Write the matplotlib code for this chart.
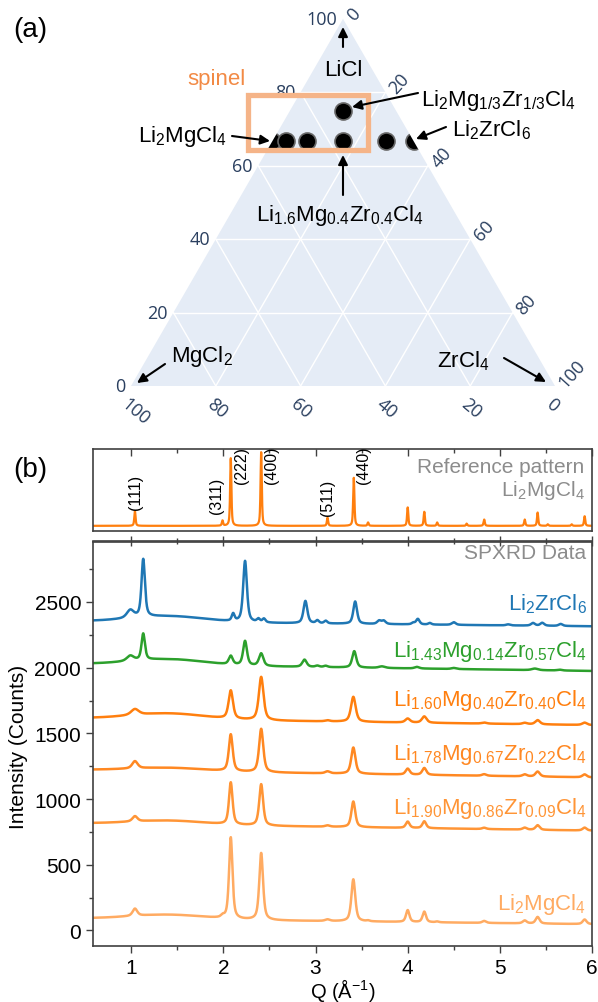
import numpy as np
import matplotlib
matplotlib.use('Agg')
import matplotlib.pyplot as plt
from matplotlib.patches import Polygon, Rectangle
from matplotlib.ticker import MultipleLocator

plt.rcParams['font.family'] = ['Liberation Sans', 'DejaVu Sans']
plt.rcParams['mathtext.default'] = 'regular'

W, H = 598, 1003

# ---- (a) ternary data: moles of LiCl, MgCl2, ZrCl4 per formula ----
comp_licl = [2.0, 1.90, 1.78, 1.60, 1.43, 2.0, 2.0]
comp_mgcl2 = [1.0, 0.86, 0.67, 0.40, 0.14, 0.0, 1 / 3]
comp_zrcl4 = [0.0, 0.09, 0.22, 0.40, 0.57, 1.0, 1 / 3]
tern_ticks = [0, 20, 40, 60, 80, 100]

# ---- (b) reference pattern (Li2MgCl4) ----
ref_pos = [1.04, 1.99, 2.08, 2.41, 3.13, 3.415, 3.57, 4.00, 4.18, 4.32, 4.64, 4.83,
           5.27, 5.41, 5.52, 5.78, 5.92]
ref_amp = [0.20, 0.07, 0.92, 1.00, 0.11, 0.65, 0.045, 0.25, 0.19, 0.045, 0.03, 0.085,
           0.085, 0.18, 0.02, 0.02, 0.13]
ref_hkl = ['(111)', '(311)', '(222)', '(400)', '(511)', '(440)']
ref_hkl_q = [1.05, 1.93, 2.195, 2.52, 3.133, 3.525]
ref_hkl_y = [0.23, 0.17, 0.58, 0.58, 0.14, 0.58]

# ---- (b) SPXRD data: backgrounds (left, right, hump) and peaks ----
names = ['Li$_2$ZrCl$_6$',
         'Li$_{1.43}$Mg$_{0.14}$Zr$_{0.57}$Cl$_4$',
         'Li$_{1.60}$Mg$_{0.40}$Zr$_{0.40}$Cl$_4$',
         'Li$_{1.78}$Mg$_{0.67}$Zr$_{0.22}$Cl$_4$',
         'Li$_{1.90}$Mg$_{0.86}$Zr$_{0.09}$Cl$_4$',
         'Li$_2$MgCl$_4$']
colors = ['#1f77b4', '#2ca02c', '#ff7f0e', '#ff8822', '#ff9536', '#ffab62']
bg_left = [2353, 2028, 1615, 1222, 815, 92]
bg_right = [2315, 1975, 1563, 1165, 760, 48]
bg_hump = [45, 45, 45, 25, 30, 35]
label_y = [2490, 2128, 1759, 1344, 938, 206]

zr_pos = [0.99, 1.13, 2.106, 2.235, 2.38, 2.44, 2.89, 3.02, 3.11, 3.43, 3.69, 3.74,
          4.06, 4.11, 4.24, 4.50, 5.09, 5.36, 5.46, 5.66]
zr_amp = [60, 440, 55, 465, 25, 28, 170, 22, 20, 170, 25, 25, 12, 42, 12, 20, 8, 20, 22, 15]
zr_hw = [0.045, 0.022, 0.018, 0.024, 0.02, 0.02, 0.025, 0.02, 0.02, 0.024, 0.025, 0.025,
         0.02, 0.022, 0.02, 0.025, 0.025, 0.025, 0.025, 0.025]

x143_pos = [0.99, 1.13, 2.08, 2.235, 2.41, 2.88, 3.02, 3.11, 3.42, 3.72, 4.10, 4.50, 5.38, 5.65]
x143_amp = [40, 200, 65, 185, 95, 55, 10, 10, 125, 12, 12, 8, 12, 6]
x143_hw = [0.045, 0.022, 0.025, 0.025, 0.028, 0.028, 0.025, 0.025, 0.026, 0.04, 0.03, 0.03,
           0.04, 0.03]

x160_pos = [1.04, 2.08, 2.41, 3.13, 3.41, 4.00, 4.18, 4.83, 5.27, 5.41, 5.92]
x160_amp = [45, 215, 330, 8, 190, 30, 48, 8, 10, 32, 18]
x160_hw = [0.05, 0.028, 0.03, 0.03, 0.03, 0.03, 0.03, 0.03, 0.03, 0.03, 0.03]

x178_pos = [1.04, 2.08, 2.41, 3.13, 3.41, 4.00, 4.18, 4.83, 5.27, 5.41, 5.92]
x178_amp = [55, 280, 330, 15, 200, 45, 52, 12, 15, 38, 22]
x178_hw = [0.035, 0.025, 0.027, 0.03, 0.027, 0.026, 0.026, 0.028, 0.028, 0.028, 0.028]

x190_pos = [1.04, 2.08, 2.41, 3.13, 3.41, 4.00, 4.18, 4.83, 5.27, 5.41, 5.92]
x190_amp = [40, 320, 315, 10, 195, 48, 52, 10, 15, 35, 22]
x190_hw = [0.032, 0.023, 0.025, 0.03, 0.025, 0.024, 0.024, 0.026, 0.026, 0.026, 0.026]

mg_pos = [1.04, 1.99, 2.08, 2.41, 3.13, 3.41, 3.57, 4.00, 4.18, 4.32, 4.83, 5.27, 5.41, 5.92]
mg_amp = [55, 15, 620, 510, 12, 320, 6, 90, 80, 6, 15, 22, 50, 35]
mg_hw = [0.03, 0.02, 0.022, 0.024, 0.03, 0.025, 0.02, 0.022, 0.022, 0.02, 0.025, 0.025,
         0.025, 0.025]

peak_pos = [zr_pos, x143_pos, x160_pos, x178_pos, x190_pos, mg_pos]
peak_amp = [zr_amp, x143_amp, x160_amp, x178_amp, x190_amp, mg_amp]
peak_hw = [zr_hw, x143_hw, x160_hw, x178_hw, x190_hw, mg_hw]


def pseudo_voigt(q, pos, amp, hw, eta=0.6):
    y = np.zeros_like(q)
    for p, a, w in zip(pos, amp, hw):
        d = (q - p) / w
        y += a * (eta / (1 + d ** 2) + (1 - eta) * np.exp(-np.log(2) * d ** 2))
    return y


fig = plt.figure(figsize=(W / 100, H / 100), dpi=100)
fig.patch.set_facecolor('white')

# ── (a) ternary ─────────────────────────────────────────────────────────────
S = 424.0          # side length in pixels
X0, Y0 = 131, 387  # left vertex in pixels
h = np.sqrt(3) / 2

axt = fig.add_axes([0, (H - 440) / H, 1, 440 / H])
axt.set_xlim(-X0 / S, (W - X0) / S)
axt.set_ylim((Y0 - 440) / S, Y0 / S)
axt.axis('off')


def P(px, py):
    return ((px - X0) / S, (Y0 - py) / S)


tri = Polygon([(0, 0), (1, 0), (0.5, h)], closed=True, facecolor='#E5ECF6',
              edgecolor='none', zorder=0)
axt.add_patch(tri)
for t in [0.2, 0.4, 0.6, 0.8]:
    axt.plot([t / 2, 1 - t / 2], [t * h, t * h], color='white', lw=1, zorder=1)
    axt.plot([(1 - t) / 2, 1 - t], [(1 - t) * h, 0], color='white', lw=1, zorder=1)
    axt.plot([t + (1 - t) / 2, t], [(1 - t) * h, 0], color='white', lw=1, zorder=1)

tick_kw = dict(fontsize=13, color='#2a3f5f', family=['Open Sans', 'DejaVu Sans'],
               textcoords='offset points')
for v in tern_ticks:
    f = v / 100
    # LiCl axis (left edge)
    axt.annotate(str(v), xy=(f / 2, f * h), xytext=(-4, 0), ha='right', va='center', **tick_kw)
    # MgCl2 axis (bottom edge)
    axt.annotate(str(v), xy=(1 - f, 0), xytext=(-5, -11), ha='left', va='center',
                 rotation=-40, rotation_mode='anchor', **tick_kw)
    # ZrCl4 axis (right edge)
    axt.annotate(str(v), xy=(f + (1 - f) / 2, (1 - f) * h), xytext=(5, 1), ha='left',
                 va='center', rotation=48, rotation_mode='anchor', **tick_kw)

tot = np.array(comp_licl) + np.array(comp_mgcl2) + np.array(comp_zrcl4)
fa = np.array(comp_licl) / tot
fc = np.array(comp_zrcl4) / tot
sc = axt.scatter(fc + fa / 2, fa * h, s=150, c='black', edgecolors='#666666',
                 linewidths=1.2, zorder=4)
sc.set_clip_path(tri)

x0, y0 = P(247.5, 150.5)
axt.add_patch(Rectangle((x0, y0), 120 / S, 55 / S, fill=False, edgecolor='#f5b488',
                        lw=3.8, zorder=5))
axt.text(*P(216, 80), 'spinel', color='#f28a45', fontsize=16, ha='center', va='center')

labels_a = [
    ('LiCl', (343, 70), 'center', (343, 48), (343, 28)),
    ('Li$_2$Mg$_{1/3}$Zr$_{1/3}$Cl$_4$', (421, 101), 'left', (418, 94), (352, 108)),
    ('Li$_2$MgCl$_4$', (227, 137), 'right', (232, 137), (270, 142)),
    ('Li$_2$ZrCl$_6$', (452, 130), 'left', (446, 128), (416, 140)),
    ('Li$_{1.6}$Mg$_{0.4}$Zr$_{0.4}$Cl$_4$', (340, 216), 'center', (343, 196), (343, 156)),
    ('MgCl$_2$', (171, 357), 'left', (165, 365), (137, 384)),
    ('ZrCl$_4$', (489, 361), 'right', (504, 359), (546, 383)),
]
for txt, pos, ha, tail, head in labels_a:
    axt.text(*P(*pos), txt, fontsize=16, ha=ha, va='center', zorder=6)
    axt.annotate('', xy=P(*head), xytext=P(*tail),
                 arrowprops=dict(arrowstyle='-|>', color='black', lw=1.5,
                                 mutation_scale=14, shrinkA=0, shrinkB=0), zorder=6)

fig.text(30 / W, 1 - 30 / H, '(a)', fontsize=20, ha='center', va='center')
fig.text(30 / W, 1 - 470 / H, '(b)', fontsize=20, ha='center', va='center')

# ── (b) XRD ────────────────────────────────────────────────────────────────
q = np.linspace(0.55, 6.05, 4000)
spine_c = '#404040'
AX_L, AX_W = 93, 499

axr = fig.add_axes([AX_L / W, (H - 532) / H, AX_W / W, 82 / H])
axr.plot(q, pseudo_voigt(q, ref_pos, ref_amp, [0.008] * len(ref_pos)), color='#ff7f0e', lw=1.6)
for lab, xq, yv in zip(ref_hkl, ref_hkl_q, ref_hkl_y):
    axr.text(xq, yv, lab, rotation=90, ha='center', va='bottom', fontsize=11.5)
axr.text(0.985, 0.79, 'Reference pattern', transform=axr.transAxes, ha='right',
         va='center', fontsize=15, color='#8c8c8c')
axr.text(0.985, 0.51, 'Li$_2$MgCl$_4$', transform=axr.transAxes, ha='right',
         va='center', fontsize=15, color='#8c8c8c')
axr.set_xlim(0.585, 6)
axr.set_ylim(-0.07, 1.04)
axr.set_yticks([])
axr.xaxis.set_major_locator(MultipleLocator(1))
axr.xaxis.set_minor_locator(MultipleLocator(0.5))
axr.tick_params(axis='x', which='both', bottom=False, top=True, labelbottom=False,
                direction='in', color=spine_c)
axr.tick_params(axis='x', which='major', length=5, width=1)
axr.tick_params(axis='x', which='minor', length=3, width=1)

axm = fig.add_axes([AX_L / W, (H - 947) / H, AX_W / W, 404.5 / H])
for i in range(len(names)):
    bg = (bg_left[i] + (bg_right[i] - bg_left[i]) * (q - 0.6) / 5.4
          + bg_hump[i] * np.exp(-(q - 1.4) ** 2 / (2 * 0.4 ** 2)))
    y = bg + pseudo_voigt(q, peak_pos[i], peak_amp[i], peak_hw[i])
    axm.plot(q, y, color=colors[i], lw=1.8)
    axm.text(5.94, label_y[i], names[i], color=colors[i], fontsize=16, ha='right',
             va='center')
axm.text(5.94, 2875, 'SPXRD Data', color='#8c8c8c', fontsize=15, ha='right', va='center')

axm.set_xlim(0.585, 6)
axm.set_ylim(-118, 2960)
axm.set_yticks([0, 500, 1000, 1500, 2000, 2500])
axm.yaxis.set_minor_locator(MultipleLocator(250))
axm.xaxis.set_major_locator(MultipleLocator(1))
axm.xaxis.set_minor_locator(MultipleLocator(0.5))
axm.tick_params(axis='both', which='both', labelsize=15, color=spine_c, width=1)
axm.tick_params(axis='x', which='both', top=False, direction='out')
axm.tick_params(axis='x', which='major', length=5)
axm.tick_params(axis='x', which='minor', length=3)
axm.tick_params(axis='y', which='major', length=5, direction='out')
axm.tick_params(axis='y', which='minor', length=3, direction='out')

top = axm.secondary_xaxis('top')
top.xaxis.set_major_locator(MultipleLocator(1))
top.xaxis.set_minor_locator(MultipleLocator(0.5))
top.tick_params(axis='x', which='both', direction='inout', labeltop=False, color=spine_c,
                width=1)
top.tick_params(axis='x', which='major', length=7)
top.tick_params(axis='x', which='minor', length=4)
top.spines['top'].set_color(spine_c)
top.spines['top'].set_linewidth(1.2)

axm.set_xlabel('Q (Å$^{-1}$)', fontsize=14.5, va='top')
axm.xaxis.set_label_coords(0.5, -0.0745)
axm.set_ylabel('Intensity (Counts)', fontsize=15)
axm.yaxis.set_label_coords(-0.131, 0.494)

for ax in (axr, axm):
    for sp in ax.spines.values():
        sp.set_color(spine_c)
        sp.set_linewidth(1.2)

fig.savefig('out.png', dpi=100)
